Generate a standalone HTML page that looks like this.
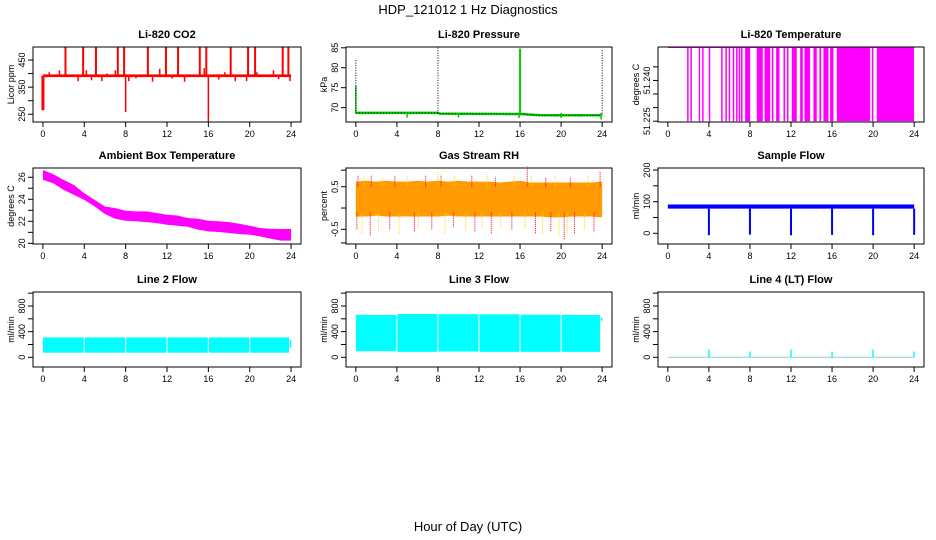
<!DOCTYPE html>
<html><head><meta charset="utf-8"><style>
html,body{margin:0;padding:0;background:#fff;}
svg{display:block;font-family:"Liberation Sans",sans-serif;}
</style></head><body>
<svg id="c" width="936" height="540" viewBox="0 0 936 540">
<text x="468" y="14" text-anchor="middle" font-size="13">HDP_121012  1 Hz Diagnostics</text>
<text x="468" y="531" text-anchor="middle" font-size="13">Hour of Day (UTC)</text>
</svg>
<script>
// ---- data ----
const xTicks = [0,4,8,12,16,20,24];
const co2Base = 392;
const co2UpHours = [2.18,3.89,5.13,7.24,7.85,10.15,11.9,13.07,15.17,15.8,18.16,19.84,20.52,23.19,23.74];
const co2UpValue = 497;
const co2DownHours = [0,8,16];
const co2DownValues = [265,258,222];
const co2SmallHours = [0.6,1.6,3.4,4.2,4.7,5.7,6.2,7.0,8.3,9.0,10.6,11.3,12.5,13.7,14.6,15.6,17.0,17.6,18.6,19.7,20.7,21.3,22.3,22.8,23.9];
const co2SmallValues = [405,412,372,412,375,372,400,412,372,382,370,418,382,370,395,420,378,405,372,372,405,395,412,380,372];
const presBaseHours = [0,8,8.2,16,18,24];
const presBaseValues = [68.7,68.7,68.5,68.4,68.1,68.1];
const presSpikeHours = [0,8,16,24];
const presSpikeValues = [82,85,84.8,84.7];
const presDipHours = [5,10,15.9,20,23.9];
const presDipValues = [67.5,67.5,67.4,67.4,67.0];
const ltHigh = 51.2522, ltLow = 51.225;
const ltDropStart = [1.95,2.27,3.08,3.41,4.06,5.26,5.68,6.0,6.4,6.72,6.98,7.2,7.53,8.67,9.42,10.13,10.55,11.27,11.6,12.08,12.89,13.31,14.19,14.77,15.16,15.81,16.46,19.87,20.36];
const ltDropEnd   = [1.95,2.27,3.08,3.41,4.06,5.26,5.68,6.0,6.4,6.72,6.98,7.2,8.02,9.25,9.97,10.29,10.88,11.43,11.75,12.56,13.15,13.86,14.51,14.94,15.65,16.14,19.71,20.03,23.99];
const hours = [0,1,2,3,4,5,6,7,8,9,10,11,12,13,14,15,16,17,18,19,20,21,22,23,24];
const ambUpper = [26.66,26.27,25.76,25.30,24.55,23.95,23.35,23.2,22.96,22.9,22.9,22.75,22.6,22.53,22.3,22.23,22.05,22.0,21.93,21.78,21.6,21.39,21.33,21.3,21.3];
const ambLower = [25.76,25.46,24.85,24.4,23.95,23.35,22.66,22.23,22.05,22.0,21.93,21.84,21.69,21.6,21.51,21.24,21.09,21.03,20.94,20.84,20.79,20.63,20.43,20.25,20.25];
const rhUpper = [0.62,0.64,0.62,0.64,0.62,0.62,0.64,0.62,0.64,0.62,0.64,0.62,0.62,0.62,0.6,0.62,0.64,0.6,0.6,0.6,0.6,0.6,0.6,0.6,0.62];
const rhLower = [-0.2,-0.2,-0.18,-0.2,-0.2,-0.2,-0.2,-0.2,-0.2,-0.18,-0.2,-0.2,-0.2,-0.2,-0.2,-0.2,-0.2,-0.2,-0.2,-0.22,-0.22,-0.2,-0.2,-0.2,-0.22];
const rhSpikeHours = [0.2,0.8,1.5,2.6,3.8,5.0,6.8,8.0,8.3,9.6,11.3,12.8,13.6,15.4,16.7,17.1,18.5,19.4,20.9,22.6,23.8];
const rhSpikeValues = [0.76,0.76,0.76,0.72,0.76,0.76,0.76,0.86,0.78,0.76,0.76,0.8,0.74,0.78,0.98,0.78,0.72,0.76,0.74,0.78,0.86];
const rhDipHours = [0.1,0.6,1.4,2.2,3.3,4.2,5.7,6.1,7.4,8.7,9.5,10.7,11.6,12.3,13.2,14.1,15.2,16.5,17.5,18.2,19.0,19.8,20.3,20.6,21.3,22.3,23.2];
const rhDipValues = [-0.5,-0.6,-0.65,-0.55,-0.5,-0.6,-0.55,-0.45,-0.5,-0.6,-0.45,-0.5,-0.55,-0.45,-0.6,-0.45,-0.5,-0.5,-0.6,-0.6,-0.55,-0.65,-0.75,-0.62,-0.6,-0.5,-0.55];
const sfUpper = 91, sfLower = 78;
const sfDropHours = [4,8,12,16,20,24];
const sfDropValues = [-6,-4,-6,-5,-6,-5];
const l2SegStart = [0,4.05,8.05,12.05,16.05,20.05];
const l2SegEnd   = [3.95,7.95,11.95,15.95,19.95,23.8];
const l2Upper = [310,310,310,310,310,310];
const l2Lower = [72,72,72,72,72,72];
const l3SegStart = [0,4.05,8.05,12.05,16.05,20.05];
const l3SegEnd   = [3.95,7.95,11.95,15.95,19.95,23.8];
const l3Upper = [660,676,672,670,664,660];
const l3Lower = [95,85,90,85,85,85];
const l4SpikeHours = [4,8,12,16,20,24];
const l4SpikeValues = [120,90,120,90,120,90];

// ---- helpers ----
const NS = "http://www.w3.org/2000/svg";
const svg = document.getElementById('c');
function mk(tag, attrs, parent){
  const e = document.createElementNS(NS, tag);
  for (const k in attrs) e.setAttribute(k, attrs[k]);
  (parent || svg).appendChild(e);
  return e;
}
function panel(key, L, T, R, B, ylim, title, ytitle, yticks, ylabels){
  const g = mk('g', {});
  
  
  const xs = h => L + (h + 0.96) / 25.92 * (R - L);
  const ys = v => B - (v - ylim[0]) / (ylim[1] - ylim[0]) * (B - T);
  const plot = mk('g', {}, g);
  
  
  const box = mk('rect', {x:L, y:T, width:R-L, height:B-T, fill:'none', stroke:'#000', 'stroke-width':1}, g);
  
  
  const t = mk('text', {x:(L+R)/2, y:T-9, 'text-anchor':'middle', 'font-size':11, 'font-weight':'bold'}, g);
  t.textContent = title;
  
  
  xTicks.forEach(h => {
    const x = xs(h);
    const tk = mk('line', {x1:x, x2:x, y1:B, y2:B+5, stroke:'#000'}, g);
    
    
    const lb = mk('text', {x:x, y:B+15, 'text-anchor':'middle', 'font-size':9}, g);
    lb.textContent = h;
    
    
  });
  yticks.forEach((v, i) => {
    const y = ys(v);
    const tk = mk('line', {x1:L-5, x2:L, y1:y, y2:y, stroke:'#000'}, g);
    
    
    if (ylabels[i] !== '') {
      const lb = mk('text', {x:0, y:0, 'text-anchor':'middle', 'font-size':9, transform:`translate(${L-8},${y}) rotate(-90)`}, g);
      lb.textContent = ylabels[i];
      
      
    }
  });
  const yt = mk('text', {x:0, y:0, 'text-anchor':'middle', 'font-size':9, transform:`translate(${L-19},${(T+B)/2}) rotate(-90)`}, g);
  yt.textContent = ytitle;
  
  
  g.insertBefore(plot, box);
  return {xs, ys, g: plot};
}
function vline(p, h, v1, v2, color, w, name, dash){
  const a = {x1:p.xs(h), x2:p.xs(h), y1:p.ys(v1), y2:p.ys(v2), stroke:color, 'stroke-width':w};
  if (dash) a['stroke-dasharray'] = dash;
  const l = mk('line', a, p.g);
  
  
  return l;
}
function band(p, hs, up, lo, fill, name){
  const pts = [];
  hs.forEach((h,i) => pts.push(p.xs(h)+','+p.ys(up[i])));
  for (let i = hs.length-1; i >= 0; i--) pts.push(p.xs(hs[i])+','+p.ys(lo[i]));
  const e = mk('polygon', {points: pts.join(' '), fill: fill}, p.g);
  
  
  return e;
}
function rectBand(p, h1, h2, vTop, vBot, fill, name){
  const e = mk('rect', {x:p.xs(h1), y:p.ys(vTop), width:Math.max(1, p.xs(h2)-p.xs(h1)), height:p.ys(vBot)-p.ys(vTop), fill:fill}, p.g);
  
  
  return e;
}

const C1 = [33,301], C2 = [346,612], C3 = [658,924];
const R1 = [47,122], R2 = [168,244], R3 = [292,367];

// CO2
const pCO2 = panel('co2', C1[0], R1[0], C1[1], R1[1], [221.5,498], 'Li-820 CO2', 'Licor ppm', [250,300,350,400,450], ['250','','350','','450']);
rectBand(pCO2, 0, 24, co2Base+5, co2Base-5, '#f00', 'co2-baseline');
co2UpHours.forEach(h => vline(pCO2, h, co2Base, co2UpValue, '#f00', 2, 'co2-spike-up'));
co2DownHours.forEach((h,i) => vline(pCO2, h, co2Base, co2DownValues[i], '#f00', i===0?3:1.5, 'co2-spike-down'));
co2SmallHours.forEach((h,i) => vline(pCO2, h, co2Base, co2SmallValues[i], '#f00', 1.5, 'co2-small-spike'));

// Pressure
const pP = panel('pressure', C2[0], R1[0], C2[1], R1[1], [66.4,85.2], 'Li-820 Pressure', 'kPa', [70,75,80,85], ['70','75','80','85']);
{
  const pts = presBaseHours.map((h,i) => pP.xs(h)+','+pP.ys(presBaseValues[i])).join(' ');
  const gl = mk('polyline', {points:pts, fill:'none', stroke:'#0c0', 'stroke-width':2.5}, pP.g);
  
  
  const bl = mk('polyline', {points:pts, fill:'none', stroke:'#000', 'stroke-width':1, 'stroke-dasharray':'1,2'}, pP.g);
  
  
}
presDipHours.forEach((h,i) => vline(pP, h, presBaseValues[0], presDipValues[i], '#0c0', 1.5, 'pressure-dip'));
presSpikeHours.forEach((h,i) => {
  if (i === 0) vline(pP, h, 68.7, 75.5, '#0c0', 1.5, 'pressure-spike');
  if (i === 2) vline(pP, h, 68.4, presSpikeValues[i], '#0c0', 2, 'pressure-spike');
  else vline(pP, h, 68.5, presSpikeValues[i], '#000', 1, 'pressure-spike-dotted', '1,1.5');
});

// Li-820 Temperature
const pT = panel('li820-temp', C3[0], R1[0], C3[1], R1[1], [51.2247,51.2523], 'Li-820 Temperature', 'degrees C', [51.225,51.230,51.235,51.240,51.245], ['51.225','','','51.240','']);
{
  const l = mk('line', {x1:pT.xs(0), x2:pT.xs(24), y1:pT.ys(ltHigh), y2:pT.ys(ltHigh), stroke:'#f0f', 'stroke-width':1.5}, pT.g);
  
  
}
ltDropStart.forEach((s,i) => {
  if (ltDropEnd[i] - s < 0.05) vline(pT, s, ltHigh, ltLow, '#f0f', 1.5, 'li820-temp-drop');
  else rectBand(pT, s, ltDropEnd[i], ltHigh, ltLow, '#f0f', 'li820-temp-drop-band');
});

// Ambient
const pA = panel('ambient-temp', C1[0], R2[0], C1[1], R2[1], [19.94,26.84], 'Ambient Box Temperature', 'degrees C', [20,21,22,23,24,25,26], ['20','','22','','24','','26']);
band(pA, hours, ambUpper, ambLower, '#f0f', 'ambient-temp-band');

// RH
const pR = panel('gas-rh', C2[0], R2[0], C2[1], R2[1], [-0.845,0.94], 'Gas Stream RH', 'percent', [-0.82,-0.5,0,0.5,0.89], ['','-0.5','','0.5','']);
band(pR, hours, rhUpper, rhLower, '#ff9a00', 'gas-rh-band');
rhSpikeHours.forEach((h,i) => vline(pR, h, 0.5, rhSpikeValues[i], i%2?'#ffd800':'#f00', 1, 'gas-rh-spike', '1,1'));
rhDipHours.forEach((h,i) => vline(pR, h, -0.1, rhDipValues[i], i%2?'#ffd800':'#f00', 1, 'gas-rh-dip', '1,1'));

// Sample flow
const pS = panel('sample-flow', C3[0], R2[0], C3[1], R2[1], [-33.8,206.3], 'Sample Flow', 'ml/min', [0,50,100,150,200], ['0','','100','','200']);
rectBand(pS, 0, 24, sfUpper, sfLower, '#00f', 'sample-flow-band');
sfDropHours.forEach((h,i) => vline(pS, h, sfLower, sfDropValues[i], '#00f', 2, 'sample-flow-drop'));

// Line 2
const flowTicks = [0,200,400,600,800,1000], flowLabels = ['0','','400','','800',''];
const p2 = panel('line2-flow', C1[0], R3[0], C1[1], R3[1], [-151,1018], 'Line 2 Flow', 'ml/min', flowTicks, flowLabels);
l2SegStart.forEach((s,i) => rectBand(p2, s, l2SegEnd[i], l2Upper[i], l2Lower[i], '#0ff', 'line2-flow-segment'));
vline(p2, 23.95, 270, 150, '#0ff', 1.5, 'line2-flow-tail');

// Line 3
const p3 = panel('line3-flow', C2[0], R3[0], C2[1], R3[1], [-151,1018], 'Line 3 Flow', 'ml/min', flowTicks, flowLabels);
l3SegStart.forEach((s,i) => rectBand(p3, s, l3SegEnd[i], l3Upper[i], l3Lower[i], '#0ff', 'line3-flow-segment'));
vline(p3, 23.95, 620, 560, '#0ff', 1.5, 'line3-flow-tail');

// Line 4
const p4 = panel('line4-flow', C3[0], R3[0], C3[1], R3[1], [-151,1018], 'Line 4 (LT) Flow', 'ml/min', flowTicks, flowLabels);
{
  const l = mk('line', {x1:p4.xs(0), x2:p4.xs(24), y1:p4.ys(0), y2:p4.ys(0), stroke:'#9cc', 'stroke-width':1}, p4.g);
  
  
}
l4SpikeHours.forEach((h,i) => vline(p4, h, 0, l4SpikeValues[i], '#0ff', 1.5, 'line4-flow-spike'));
</script>
</body></html>
